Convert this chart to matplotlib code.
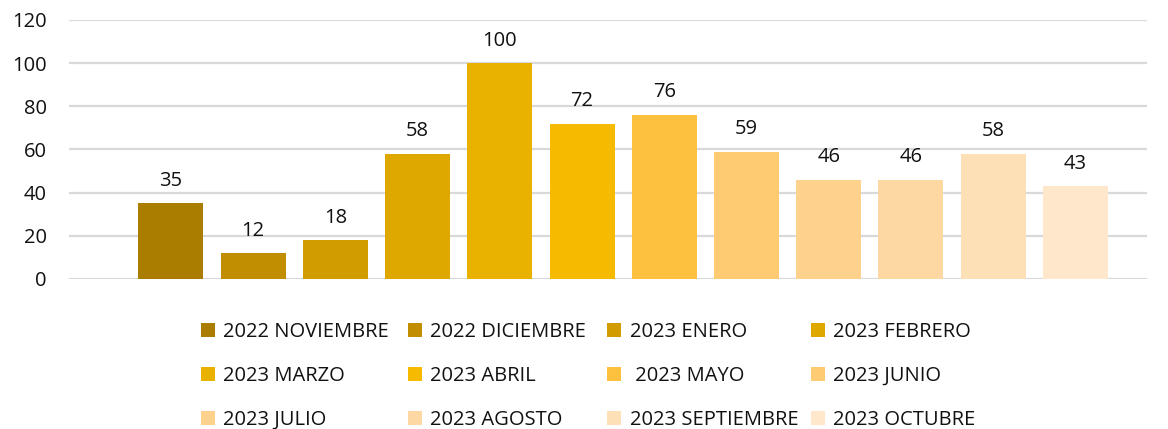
import matplotlib

matplotlib.use("Agg")
import matplotlib.pyplot as plt
from matplotlib.patches import Patch
import numpy as np

plt.rcParams["font.family"] = ["Open Sans", "DejaVu Sans"]

MONTHS = [
    "2022 NOVIEMBRE", "2022 DICIEMBRE", "2023 ENERO", "2023 FEBRERO",
    "2023 MARZO", "2023 ABRIL", " 2023 MAYO", "2023 JUNIO",
    "2023 JULIO", "2023 AGOSTO", "2023 SEPTIEMBRE", "2023 OCTUBRE",
]
VALUES = [35, 12, 18, 58, 100, 72, 76, 59, 46, 46, 58, 43]
COLORS = [
    "#AA7D00", "#C08E00", "#D09C00", "#DEA800", "#EAB200", "#F6BB00",
    "#FEC13F", "#FECB73", "#FED28D", "#FED8A2", "#FEE0B6", "#FEE7CA",
]
Y_TICKS = [0, 20, 40, 60, 80, 100, 120]

fig = plt.figure(figsize=(11.68, 4.29), dpi=100)
fig.patch.set_facecolor("white")
ax = fig.add_axes([0.059, 0.3497, 0.923, 0.6037])

x = np.arange(len(VALUES))
bars = ax.bar(x, VALUES, width=0.79, color=COLORS, zorder=2)
for xi, v in zip(x, VALUES):
    ax.annotate(str(v), (xi, v), xytext=(0, 9), textcoords="offset points",
                ha="center", va="bottom", fontsize=14.5, color="#111111")

ax.set_ylim(0, 120)
ax.set_xlim(-1.24, 11.87)
ax.set_yticks(Y_TICKS)
ax.set_xticks([])
ax.tick_params(axis="y", length=0, pad=16, labelsize=14.5, labelcolor="#111111")
ax.grid(axis="y", color="#D9D9D9", linewidth=1.6, zorder=0)
for s in ax.spines.values():
    s.set_visible(False)

# legend: 4 columns laid out row-wise like the original
handles = [Patch(facecolor=c, edgecolor="none") for c in COLORS]
col_x = [0.172, 0.349, 0.520, 0.694]
for j in range(4):
    leg = fig.legend(
        handles[j::4], MONTHS[j::4],
        loc="upper left", bbox_to_anchor=(col_x[j], 0.25),
        frameon=False, fontsize=14.5, handlelength=0.7, handleheight=0.7,
        handletextpad=0.4, labelspacing=1.2, borderaxespad=0,
        borderpad=0,
    )
    for t in leg.get_texts():
        t.set_color("#111111")

fig.savefig("out.png", dpi=100)
